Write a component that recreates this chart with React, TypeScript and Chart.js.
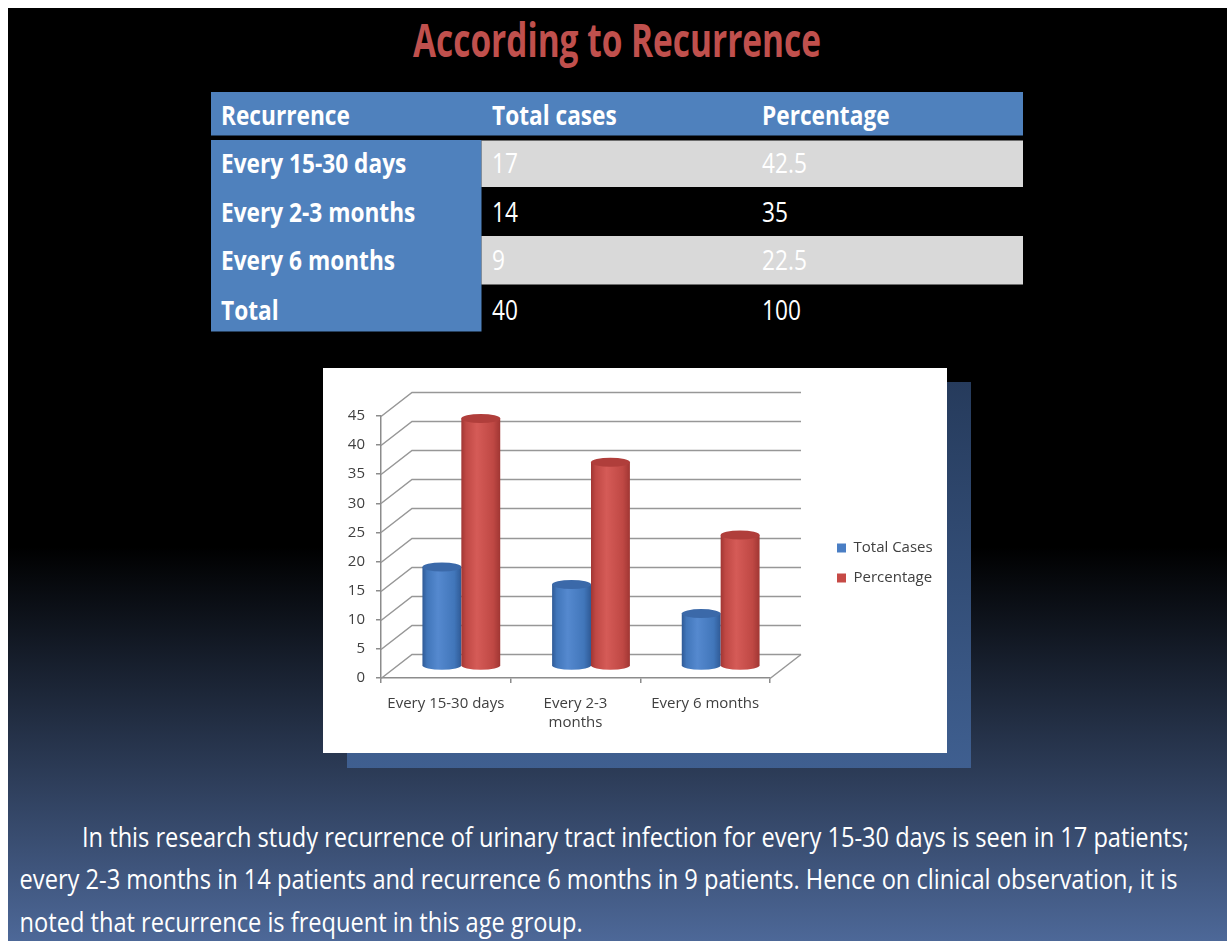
import React, { useEffect, useRef } from 'react';
import { Chart, registerables } from 'chart.js';

Chart.register(...registerables);

// ---------- data ----------
const titleText = 'According to Recurrence';
const tableHeader = ['Recurrence', 'Total cases', 'Percentage'];
const categories = ['Every 15-30 days', 'Every 2-3 months', 'Every 6 months'];
const totalCases = [17, 14, 9];
const percentages = [42.5, 35, 22.5];
const totalLabel = 'Total';
const totalCasesSum = 40;
const totalPercentage = 100;
const chartLabels = [['Every 15-30 days'], ['Every 2-3', 'months'], ['Every 6 months']];
const seriesNames = ['Total Cases', 'Percentage'];
const yTicks = { min: 0, max: 45, step: 5 };
const paragraphLines = [
  'In this research study recurrence of urinary tract infection for every 15-30 days is seen in 17 patients;',
  'every 2-3 months in 14 patients and recurrence 6 months in 9 patients. Hence on clinical observation, it is',
  'noted that recurrence is frequent in this age group.',
];

// ---------- styling ----------
const FONT = "'Open Sans', 'DejaVu Sans', sans-serif";
const DX = 31;
const DY = -24;
const RY = 4.5;
const cylColors = [
  { dark: '#2f5a96', light: '#5589cf', mid: '#4176ba', top: '#3b69a9', legend: '#4a7ec4' },
  { dark: '#a03633', light: '#d55b57', mid: '#bf4844', top: '#b03e3b', legend: '#c64a46' },
];

function drawCylinder(ctx: CanvasRenderingContext2D, cx: number, top: number, bottom: number, w: number, c: any) {
  const rx = w / 2;
  const l = cx - rx;
  const r = cx + rx;
  const g = ctx.createLinearGradient(l, 0, r, 0);
  g.addColorStop(0, c.dark);
  g.addColorStop(0.12, c.mid);
  g.addColorStop(0.4, c.light);
  g.addColorStop(0.82, c.mid);
  g.addColorStop(1, c.dark);
  ctx.fillStyle = g;
  ctx.beginPath();
  ctx.moveTo(l, top);
  ctx.lineTo(l, bottom);
  ctx.ellipse(cx, bottom, rx, RY, 0, Math.PI, 0, true);
  ctx.lineTo(r, top);
  ctx.closePath();
  ctx.fill();
  ctx.fillStyle = c.top;
  ctx.beginPath();
  ctx.ellipse(cx, top, rx, RY, 0, 0, Math.PI * 2);
  ctx.fill();
}

const threeDPlugin = {
  id: 'threeD',
  beforeDatasetsDraw(chart: any) {
    const { ctx, chartArea, scales } = chart;
    const { left, right, bottom } = chartArea;
    const y = scales.y;
    ctx.save();
    ctx.strokeStyle = '#979797';
    ctx.lineWidth = 1.5;
    y.ticks.forEach((t: any) => {
      const py = Math.round(y.getPixelForValue(t.value)) + 0.5;
      ctx.beginPath();
      ctx.moveTo(left, py);
      ctx.lineTo(left + DX, py + DY);
      ctx.lineTo(right + DX, py + DY);
      ctx.stroke();
    });
    ctx.beginPath();
    ctx.moveTo(right, bottom + 0.5);
    ctx.lineTo(right + DX, bottom + 0.5 + DY);
    ctx.stroke();
    ctx.restore();
  },
  beforeDatasetDraw() {
    return false;
  },
  afterDatasetsDraw(chart: any) {
    const { ctx } = chart;
    const n = chart.data.labels.length;
    ctx.save();
    for (let i = 0; i < n; i++) {
      chart.data.datasets.forEach((_: any, d: number) => {
        const el = chart.getDatasetMeta(d).data[i];
        const p = el.getProps(['x', 'y', 'base', 'width'], true);
        drawCylinder(ctx, p.x + DX / 2, p.y + DY / 2, p.base + DY / 2, p.width, cylColors[d]);
      });
    }
    ctx.restore();
  },
};

function BarChart() {
  const ref = useRef<HTMLCanvasElement | null>(null);
  useEffect(() => {
    if (!ref.current) return;
    const font = { family: FONT, size: 15 };
    const axisColor = '#8c8c8c';
    const chart = new Chart(ref.current, {
      type: 'bar',
      data: {
        labels: chartLabels as any,
        datasets: [
          { label: seriesNames[0], data: totalCases, backgroundColor: cylColors[0].legend },
          { label: seriesNames[1], data: percentages, backgroundColor: cylColors[1].legend },
        ],
      },
      options: {
        animation: false,
        responsive: false,
        devicePixelRatio: 1,
        events: [],
        layout: { padding: { left: 0, top: 5, right: 15, bottom: 0 } },
        datasets: { bar: { categoryPercentage: 0.6, barPercentage: 1 } },
        plugins: {
          legend: {
            position: 'right',
            align: 'center',
            maxWidth: 110,
            labels: { boxWidth: 9, boxHeight: 9, padding: 15, font, color: '#404040' },
          },
          tooltip: { enabled: false },
        },
        scales: {
          x: {
            ticks: { padding: 11, font: { ...font, lineHeight: 1.27 }, color: '#404040', maxRotation: 0, autoSkip: false },
            grid: { display: true, drawOnChartArea: false, drawTicks: true, tickLength: 5, offset: true, color: axisColor, lineWidth: 1.5 },
            border: { display: true, color: axisColor, width: 1.5 },
            afterFit: (s: any) => { s.height = 75; },
          },
          y: {
            min: yTicks.min,
            max: yTicks.max,
            ticks: { stepSize: yTicks.step, padding: 11, font, color: '#404040' },
            grid: { display: true, drawOnChartArea: false, drawTicks: true, tickLength: 5, color: axisColor, lineWidth: 1.5 },
            border: { display: true, color: axisColor, width: 1.5 },
            afterFit: (s: any) => { s.width = 58; },
          },
          gapRight: {
            type: 'linear',
            position: 'right',
            display: true,
            grid: { display: false },
            ticks: { display: false },
            border: { display: false },
            afterFit: (s: any) => { s.width = 52; },
          },
          gapTop: {
            type: 'linear',
            position: 'top',
            display: true,
            grid: { display: false },
            ticks: { display: false },
            border: { display: false },
            afterFit: (s: any) => { s.height = 43; },
          },
        },
      } as any,
      plugins: [threeDPlugin],
    });
    return () => chart.destroy();
  }, []);
  return <canvas ref={ref} width={624} height={385} style={{ display: 'block', width: 624, height: 385 }} />;
}

export default function App() {
  const tx = [213, 484, 754];
  const headerBase = 117;
  const rowBases = [165.3, 213.7, 262, 312];
  const rows = [
    ...categories.map((c, i) => [c, String(totalCases[i]), String(percentages[i])]),
    [totalLabel, String(totalCasesSum), String(totalPercentage)],
  ];
  const sx = 0.84;
  const textAt = (s: string, x: number, y: number, bold: boolean, key: string) => (
    <text key={key} transform={`translate(${x} ${y}) scale(${sx} 1)`} fontFamily={FONT} fontSize={27}
      fontWeight={bold ? 700 : 400} fill="#ffffff">{s}</text>
  );
  const paraX = [74, 11.6, 11.6];
  const paraBase = [839, 881, 923.7];
  const paraLen = [1107, 1158, 563];
  return (
    <div style={{
      position: 'fixed', left: 8, top: 8, width: 1219, height: 933, overflow: 'hidden',
      background: 'linear-gradient(180deg, #000000 0px, #000000 539px, #4d6898 933px)',
    }}>
      <svg width={1219} height={933} style={{ position: 'absolute', left: 0, top: 0 }}>
        <text x={405} y={49} fontFamily={FONT} fontSize={46} fontWeight={700} fill="#c0504d"
          textLength={408} lengthAdjust="spacingAndGlyphs">{titleText}</text>
        <rect x={203} y={84} width={812} height={43.5} fill="#4f81bd" />
        <rect x={203} y={132} width={270.5} height={191.5} fill="#4f81bd" />
        <rect x={473.5} y={132.5} width={541.5} height={46.5} fill="#d9d9d9" />
        <rect x={473.5} y={228} width={541.5} height={48.5} fill="#d9d9d9" />
        {tableHeader.map((h, i) => textAt(h, tx[i], headerBase, true, 'h' + i))}
        {rows.map((r, ri) => r.map((cell, ci) => textAt(cell, tx[ci], rowBases[ri], ci === 0, `r${ri}c${ci}`)))}
        {paragraphLines.map((l, i) => (
          <text key={'p' + i} x={paraX[i]} y={paraBase[i]} fontFamily={FONT} fontSize={27.5} fill="#ffffff"
            textLength={paraLen[i]} lengthAdjust="spacingAndGlyphs">{l}</text>
        ))}
      </svg>
      <div style={{
        position: 'absolute', left: 339, top: 374, width: 624, height: 386,
        background: 'linear-gradient(180deg, #263b5c 0%, #3f5f90 100%)',
      }} />
      <div style={{ position: 'absolute', left: 315, top: 360, width: 624, height: 385, background: '#ffffff' }}>
        <BarChart />
      </div>
    </div>
  );
}
